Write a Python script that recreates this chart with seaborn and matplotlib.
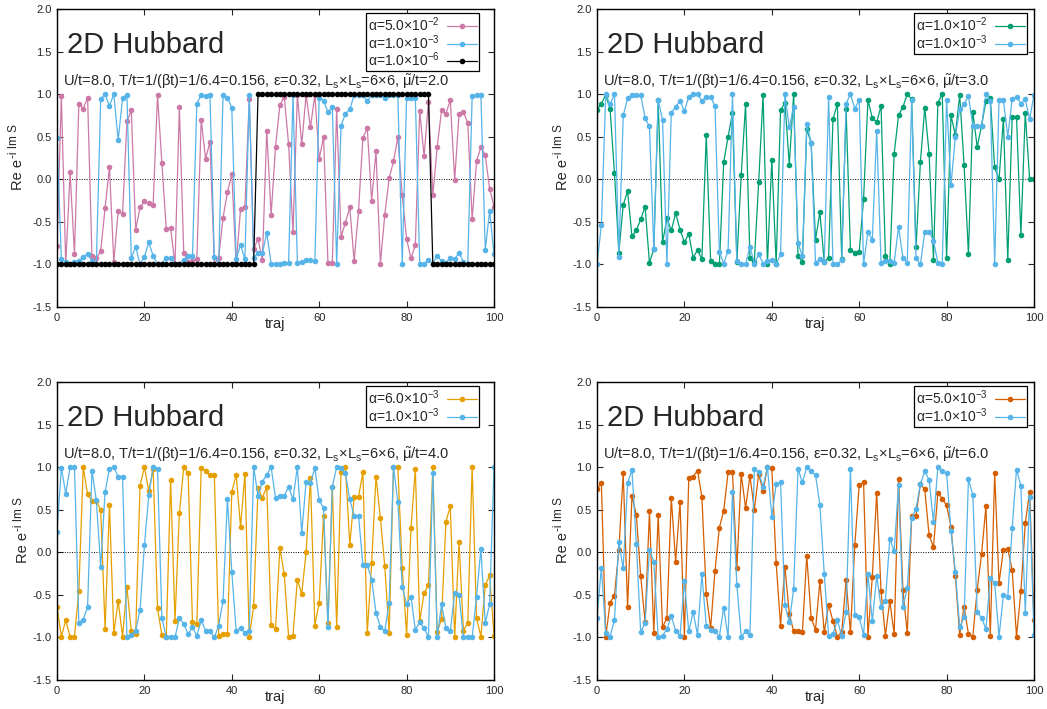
import matplotlib
matplotlib.use('Agg')
import matplotlib.pyplot as plt
import seaborn as sns

# trajectory index
traj = list(range(101))

# top-left, mu/t = 2.0
p1_a5e2 = [
    -0.78, 0.98, -1.00, 0.08, -0.88, 0.89, 0.83, 0.96, -0.90, -0.93,
    -0.84, -0.34, 0.14, -0.97, -0.37, -0.41, 0.68, 0.81, -0.59, -0.33,
    -0.26, -0.28, -0.30, 0.99, 0.19, -0.58, -0.57, -1.00, 0.85, -0.86,
    -0.97, -0.96, -0.94, 0.70, 0.24, 0.44, -0.99, -0.92, -0.45, -0.15,
    0.06, -1.00, -0.35, -0.32, 0.94, -0.82, -0.70, -0.95, 0.57, -0.42,
    0.38, 0.87, 0.97, 0.41, -0.62, 0.99, 0.41, 0.99, 0.61, 0.99,
    0.24, 0.50, -0.98, -0.98, 0.82, -0.68, -0.51, -0.33, -0.96, -0.37,
    0.49, 0.60, -0.25, 0.33, -0.99, -0.42, 0.01, 0.21, 0.50, -0.19,
    -0.70, -0.93, -0.77, 0.80, 0.27, 0.91, -0.19, 0.38, 0.81, 0.77,
    0.93, -0.01, 0.77, 0.79, 0.66, -0.47, 0.21, 0.38, 0.28, -0.11,
    -0.32]
p1_a1e3 = [
    0.48, -0.94, -0.97, -1.00, -0.97, -0.96, -0.91, -0.88, -0.96, -0.99,
    0.94, 1.00, 0.86, 1.00, 0.46, 0.95, 0.99, -0.93, -0.79, -1.00,
    -0.91, -0.74, -0.90, -1.00, -1.00, -0.92, -0.92, -0.99, -0.99, -0.95,
    -0.90, -0.90, 0.89, 0.99, 0.98, 0.99, -0.91, -0.99, 0.99, 0.96,
    0.84, -0.94, -0.77, -0.94, 0.99, -0.92, -0.87, -0.87, -0.63, -0.99,
    -0.99, -0.99, -0.98, -0.98, 0.99, -0.98, -0.97, -0.95, -0.95, -0.96,
    0.96, 0.92, 0.79, 0.85, -0.99, 0.63, 0.77, 0.82, 0.99, 0.99,
    0.99, 0.92, 0.99, 0.99, 0.99, 0.96, 0.99, 0.99, 0.99, -0.99,
    0.96, 0.96, 0.96, -0.99, -0.99, -0.95, -0.99, -0.90, -0.96, -0.98,
    -0.92, -0.94, -0.86, -0.97, -0.99, 0.98, 0.99, 0.99, -0.83, -0.37,
    -0.88]
p1_a1e6 = [
    -1, -1, -1, -1, -1, -1, -1, -1, -1, -1,
    -1, -1, -1, -1, -1, -1, -1, -1, -1, -1,
    -1, -1, -1, -1, -1, -1, -1, -1, -1, -1,
    -1, -1, -1, -1, -1, -1, -1, -1, -1, -1,
    -1, -1, -1, -1, -1, -1, 1, 1, 1, 1,
    1, 1, 1, 1, 1, 1, 1, 1, 1, 1,
    1, 1, 1, 1, 1, 1, 1, 1, 1, 1,
    1, 1, 1, 1, 1, 1, 1, 1, 1, 1,
    1, 1, 1, 1, 1, 1, -1, -1, -1, -1,
    -1, -1, -1, -1, -1, -1, -1, -1, -1, -1,
    -1]

# top-right, mu/t = 3.0
p2_a1e2 = [
    0.81, 0.89, 0.99, 0.82, 0.07, -0.86, -0.30, -0.14, -0.67, -0.60,
    -0.47, -0.32, -0.98, -0.82, 0.93, -0.74, -0.46, -0.60, -0.40, -0.59,
    -0.74, -0.64, -0.92, -0.83, -0.94, 0.52, -0.96, -1.00, -1.00, 0.20,
    0.50, 0.78, -0.97, 0.05, 0.88, -0.93, -0.97, -0.03, 0.99, -1.00,
    0.23, -1.00, 0.81, 0.90, 0.17, 1.00, -0.90, -0.97, 0.59, 0.43,
    -0.71, -0.39, -0.97, -0.92, 0.71, 0.88, -0.94, 0.82, -0.83, -0.86,
    -0.85, -0.23, 0.93, 0.72, 0.67, 0.86, -0.90, -0.99, 0.30, 0.75,
    0.85, 1.00, 0.94, -0.80, 0.20, 0.84, 0.30, -0.95, 0.90, 1.00,
    -0.93, 0.75, 0.52, 0.99, 0.17, -0.88, 0.79, 0.38, 0.63, 0.92,
    0.96, 0.14, 0.00, 0.71, -0.95, 0.73, 0.73, -0.65, 0.78, 0.00,
    0.00]
p2_a1e3 = [
    -1.00, -0.54, 1.00, 0.88, 1.00, -0.91, 0.75, 0.95, 0.99, 0.99,
    0.99, 0.72, 0.62, -0.82, 0.93, 0.70, -1.00, 0.78, 0.85, 0.92,
    0.80, 0.97, 1.00, 1.00, 0.92, 0.97, 0.97, 0.86, -0.85, -0.99,
    -0.84, 1.00, -0.96, -1.00, -1.00, -0.79, -0.99, -0.88, -0.99, -0.96,
    -0.95, -1.00, -0.88, 1.00, 0.61, 0.85, -0.75, -0.90, 0.65, 0.43,
    -0.98, -0.94, -0.97, 0.97, -1.00, -1.00, -0.95, 0.89, 1.00, 0.83,
    0.93, -1.00, -0.62, -0.71, 0.57, -0.98, -0.96, -0.96, -0.98, -0.56,
    -0.92, -0.98, 0.93, -0.92, -1.00, -0.62, -0.62, -0.72, -0.98, -1.00,
    0.93, -0.07, 0.50, 0.82, 0.88, 0.98, 0.63, 0.63, 0.63, 1.00,
    0.92, -0.99, 0.93, 0.93, 0.50, 0.94, 0.97, 0.89, 0.94, 0.71,
    0.99]

# bottom-left, mu/t = 4.0
p3_a6e3 = [
    -0.64, -0.99, -0.80, -0.99, -0.99, -0.45, 1.00, 0.68, 0.60, 0.60,
    0.50, -0.90, 0.56, -0.95, -0.57, -0.99, -0.41, -0.93, -0.96, 0.78,
    1.00, 0.72, 0.98, -0.66, -0.97, -1.00, 0.85, -0.81, 0.46, 1.00,
    0.93, -0.82, -0.84, 0.99, 0.96, 0.91, 0.91, -0.98, -0.96, -0.96,
    0.71, 0.91, 0.30, 0.92, -1.00, -0.63, 0.75, 0.64, 0.77, -0.85,
    -0.90, 0.05, -0.26, -0.99, -0.98, -0.32, -0.49, 0.00, 0.87, -0.86,
    -0.59, 0.43, -0.83, 0.77, -0.88, 0.94, 1.00, 0.09, 0.65, 0.65,
    0.94, -0.95, -0.13, 0.89, 0.40, -0.16, -0.95, 1.00, 1.00, -0.19,
    -0.97, 0.28, 0.98, -0.81, -0.48, -0.39, 1.00, -0.94, -0.78, 0.36,
    0.54, -1.00, 0.12, -0.92, -0.83, 1.00, -0.77, -0.99, -0.39, -0.27,
    -0.98]
p3_a1e3 = [
    0.24, 0.99, 0.69, 1.00, 1.00, -0.83, -0.79, -0.64, 0.96, 0.61,
    -0.17, 0.71, 0.98, 1.00, 0.89, 0.89, -0.99, -0.97, -0.92, -0.68,
    0.08, 0.67, 1.00, 0.98, -0.77, -1.00, -0.99, -1.00, -0.77, -0.84,
    -0.96, -0.88, -0.98, -0.80, -0.92, -0.92, -1.00, -0.86, -0.57, 0.63,
    -0.23, -0.92, -0.89, -0.95, -0.92, 1.00, 0.66, 0.83, 0.91, 1.00,
    0.64, 0.66, 0.66, 0.77, 0.62, 1.00, 0.23, 0.82, 0.81, 0.99,
    0.61, 0.52, -0.88, 0.77, 1.00, 0.99, 0.93, 0.62, 0.43, 0.43,
    -0.15, -0.15, -0.32, -0.71, -0.88, -0.92, -0.60, 1.00, 0.59, -0.41,
    -0.61, -0.52, -0.91, -0.82, -0.89, -1.00, 0.93, -1.00, -0.61, -0.89,
    -0.92, -0.48, -0.50, -1.00, -1.00, -1.00, -0.52, 0.04, -0.83, -0.61,
    1.00]

# bottom-right, mu/t = 6.0
p4_a5e3 = [
    0.74, 0.81, -0.99, -0.59, -0.51, 0.03, 0.93, -0.64, 0.66, 0.44,
    -0.28, -0.82, 0.48, -0.95, 0.44, -0.88, -0.77, 0.64, -0.11, 0.59,
    -0.99, 0.87, 0.89, 0.96, 0.65, -0.49, -0.89, -0.22, 0.29, 0.49,
    0.94, 0.94, -0.19, 0.92, 0.52, 0.90, 0.50, 0.92, 0.72, 1.00,
    0.99, -0.13, -0.86, -0.17, -0.72, -0.93, -0.92, -0.94, -0.04, -0.77,
    -0.91, -0.34, -0.94, -0.62, -0.81, -0.99, -0.94, -0.33, -0.94, 0.09,
    0.79, 0.82, -0.99, -0.29, 0.70, -0.46, -0.98, -0.57, -0.96, 0.86,
    -0.44, -0.95, 0.43, 0.43, 0.80, 0.74, 0.20, 0.06, 0.70, 0.63,
    0.55, 0.30, -0.28, -0.97, -0.64, -0.96, -0.99, -0.44, -0.02, 0.54,
    -0.98, 0.93, -0.36, 0.03, 0.04, -0.21, -0.99, -0.46, 0.34, 0.71,
    -0.80]
p4_a1e3 = [
    -0.77, -0.18, -0.95, -0.99, -0.79, 0.12, -0.19, 0.81, 0.97, 0.10,
    -0.94, -0.83, 0.03, -0.11, -1.00, -0.98, -0.90, -0.75, -0.92, -0.98,
    -0.34, -0.93, -0.70, -0.97, -0.26, -0.86, -0.91, -0.93, -0.99, -0.65,
    -1.00, 0.71, -0.38, -0.99, -0.93, -0.97, 0.98, 0.94, 0.77, 1.00,
    0.42, 0.80, 0.82, -0.62, -0.82, -0.43, 0.98, 0.82, 1.00, 0.95,
    0.91, 0.56, -0.25, -0.98, -0.96, -0.80, -0.98, -0.70, 0.98, -0.74,
    -0.76, -0.97, -0.26, -0.81, -0.28, -0.64, -0.57, 0.16, 0.01, 0.79,
    -0.64, -0.42, 0.40, 0.51, 0.80, 0.95, 0.85, 0.35, 1.00, 0.95,
    0.93, 0.25, -0.23, -0.88, -0.76, 0.86, 0.67, -0.70, -0.77, -0.90,
    -0.30, -0.36, -0.99, -0.50, -0.52, 0.28, 0.97, 0.78, -0.71, 0.65,
    -0.97]

mu_labels = ['2.0', '3.0', '4.0', '6.0']

sns.set_style('ticks')
plt.rcParams['font.family'] = ['Liberation Sans', 'DejaVu Sans']
plt.rcParams['mathtext.fontset'] = 'custom'
plt.rcParams['mathtext.rm'] = 'Liberation Sans'
plt.rcParams['mathtext.it'] = 'Liberation Sans:italic'
plt.rcParams['mathtext.bf'] = 'Liberation Sans:bold'
plt.rcParams['axes.unicode_minus'] = False

pink, sky, green = '#CC79A7', '#56B4E9', '#009E73'
orange, verm = '#E69F00', '#D55E00'

panels = [
    ([(p1_a5e2, pink, '5.0', '-2'), (p1_a1e3, sky, '1.0', '-3'),
      (p1_a1e6, 'black', '1.0', '-6')], mu_labels[0]),
    ([(p2_a1e2, green, '1.0', '-2'), (p2_a1e3, sky, '1.0', '-3')], mu_labels[1]),
    ([(p3_a6e3, orange, '6.0', '-3'), (p3_a1e3, sky, '1.0', '-3')], mu_labels[2]),
    ([(p4_a5e3, verm, '5.0', '-3'), (p4_a1e3, sky, '1.0', '-3')], mu_labels[3]),
]

W, H = 1047, 709
AW, AH = 437, 298
fig = plt.figure(figsize=(W / 100, H / 100), dpi=100)
boxes = [(57, 9), (597, 9), (57, 382), (597, 382)]
leg_right = [0.966, 0.985, 0.966, 0.985]
ylab_off = [39, 34, 34, 34]

for (series, mu), (px, py), lr, yo in zip(panels, boxes, leg_right, ylab_off):
    ax = fig.add_axes([px / W, 1 - (py + AH) / H, AW / W, AH / H])
    ax.axhline(0, color='black', lw=0.7, ls=(0, (1, 1.5)), zorder=1)
    for vals, col, mant, ex in series:
        sns.lineplot(x=traj, y=vals, ax=ax, color=col, marker='o',
                     markersize=4, markeredgewidth=0, linewidth=0.9,
                     label='α=' + mant + '×10$^{' + ex + '}$')
    ax.set_xlim(0, 100)
    ax.set_ylim(-1.5, 2.0)
    ax.set_xticks([0, 20, 40, 60, 80, 100])
    ax.set_yticks([-1.5, -1.0, -0.5, 0.0, 0.5, 1.0, 1.5, 2.0])
    ax.set_yticklabels(['%.1f' % v for v in ax.get_yticks()])
    ax.tick_params(direction='in', top=True, right=True, length=4,
                   width=0.8, labelsize=8, pad=4)
    for s in ax.spines.values():
        s.set_linewidth(1.0)
        s.set_color('black')
    ax.set_xlabel('traj', fontsize=10.5)
    ax.xaxis.set_label_coords(0.5, -0.033)
    # y label "Re e^{-i Im S}" built from two rotated texts
    ax.set_ylabel('')
    ax.text(-yo / AW, 117 / AH, 'Re e', rotation=90, fontsize=10.5,
            ha='center', va='bottom', transform=ax.transAxes)
    ax.text(-(yo + 4) / AW, 149 / AH, '-i Im S', rotation=90, fontsize=8.5,
            ha='center', va='bottom', transform=ax.transAxes)
    ax.text(2.3, 1.48, '2D Hubbard', fontsize=21)
    ax.text(1.4, 1.09, 'U/t=8.0, T/t=1/(βt)=1/6.4=0.156, ε=0.32, '
            'L$_{\\mathrm{s}}$×L$_{\\mathrm{s}}$=6×6, '
            '$\\tilde{\\mathrm{\\mu}}$/t=' + mu, fontsize=10.5)
    ax.legend(loc='upper right', bbox_to_anchor=(lr, 0.985),
              markerfirst=False, fancybox=False,
              edgecolor='black', framealpha=1, fontsize=10,
              handlelength=2.2, borderaxespad=0, labelspacing=-0.08,
              handletextpad=0.5, borderpad=0.15)
    ax.get_legend().get_frame().set_linewidth(0.9)

fig.savefig('out.png', dpi=100)
